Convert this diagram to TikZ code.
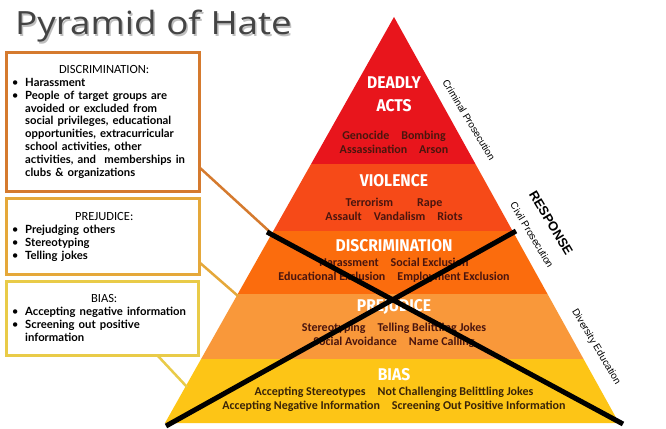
\documentclass[tikz,border=0pt]{standalone}
\usepackage{fontspec}
\usepackage{graphicx}
\setmainfont{Carlito}
\newfontfamily\titlefont{Open Sans}
\newfontfamily\headfont{Fira Sans}
\newfontfamily\sidefont{Liberation Sans}
\newfontfamily\bulletfont{Lato}
\definecolor{cDeadly}{HTML}{E8151C}
\definecolor{cViolence}{HTML}{F64A18}
\definecolor{cDiscr}{HTML}{FB6C0D}
\definecolor{cPrej}{HTML}{F9983A}
\definecolor{cBias}{HTML}{FDC516}
\definecolor{cSub}{HTML}{4A150E}
\definecolor{cBiasSub}{HTML}{3A2408}
\definecolor{boxD}{HTML}{D57A2E}
\definecolor{boxP}{HTML}{E5A83A}
\definecolor{boxB}{HTML}{E9CB48}
\definecolor{titlecol}{HTML}{444444}
\tikzset{
  hdr/.style={text=white, font=\headfont\bfseries\fontsize{17}{17}\selectfont, inner sep=0pt},
  sub/.style={text=cSub, font=\bfseries\fontsize{12}{14}\selectfont, align=center, inner sep=0pt},
  side/.style={text=black, font=\sidefont\fontsize{10}{10}\selectfont, inner sep=0pt, rotate=-59},
  infobox/.style={line width=3pt, fill=white},
  boxtext/.style={anchor=north west, text width=186pt, align=left, inner sep=0pt, font=\fontsize{12.5}{12.9}\selectfont},
  conn/.style={line width=2.5pt},
  xline/.style={line width=5pt, black}
}
\newcommand{\bfirst}[1]{\noindent\mbox{\makebox[14pt][l]{\hspace*{1pt}\textbullet}{\bulletfont\bfseries\fontsize{11.3}{12.9}\selectfont #1}}\par}
\newcommand{\bnext}[1]{\noindent\mbox{\hspace*{14pt}{\bulletfont\bfseries\fontsize{11.3}{12.9}\selectfont #1}}\par}
\begin{document}
\begin{tikzpicture}[x=1pt,y=-1pt]
\useasboundingbox (0,0) rectangle (666,428);
\fill[white] (0,0) rectangle (666,428);
% title
\node[anchor=base west, inner sep=0pt, text=black!25, font=\titlefont\fontsize{32}{32}\selectfont] at (16.5,36.5) {\scalebox{1.15}[1]{Pyramid of Hate}};
\node[anchor=base west, inner sep=0pt, text=titlecol, font=\titlefont\fontsize{32}{32}\selectfont] (title) at (15,35) {\scalebox{1.15}[1]{Pyramid of Hate}};
% pyramid
\coordinate (apex) at (394,17);
\coordinate (bl) at (165,423);
\coordinate (br) at (619,423);
\begin{scope}
\clip (apex) -- (bl) -- (br) -- cycle;
\fill[cDeadly] (150,0) rectangle (640,164);
\fill[cViolence] (150,164) rectangle (640,231);
\fill[cDiscr] (150,231) rectangle (640,294);
\fill[cPrej] (150,294) rectangle (640,359);
\fill[cBias] (150,359) rectangle (640,424);
\end{scope}
% headers
\node[hdr] (hDeadly) at (394,83) {\scalebox{0.92}[1]{DEADLY}};
\node[hdr] (hActs) at (394,106) {\scalebox{0.92}[1]{ACTS}};
\node[hdr] (hViol) at (394,181) {\scalebox{0.92}[1]{VIOLENCE}};
\node[hdr] (hDisc) at (394,246) {\scalebox{0.92}[1]{DISCRIMINATION}};
\node[hdr] (hPrej) at (394,307) {\scalebox{0.92}[1]{PREJUDICE}};
\node[hdr] (hBias) at (394,375) {\scalebox{0.92}[1]{BIAS}};
% sub texts
\node[sub] (sDeadly) at (394,142) {Genocide\quad Bombing\\Assassination\quad Arson};
\node[sub] (sViol) at (394,209) {Terrorism\qquad Rape\\Assault\quad Vandalism\quad Riots};
\node[sub] (sDisc) at (394,270) {Harassment\quad Social Exclusion\\Educational Exclusion\quad Employment Exclusion};
\node[sub] (sPrej) at (394,335) {Stereotyping\quad Telling Belittling Jokes\\Social Avoidance\quad Name Calling};
\node[sub, text=cBiasSub] (sBias) at (394,399) {Accepting Stereotypes\quad Not Challenging Belittling Jokes\\Accepting Negative Information\quad Screening Out Positive Information};
% side labels
\node[side] (crim) at (469,120) {Criminal Prosecution};
\node[side] (civil) at (532,235) {Civil Prosecution};
\node[side, font=\sidefont\bfseries\fontsize{13}{13}\selectfont] (resp) at (551,223) {RESPONSE};
\node[side] (div) at (596,347) {Diversity Education};
% connectors from boxes
\coordinate (cD1) at (199,167);
\coordinate (cD2) at (270,232);
\coordinate (cP1) at (199,262);
\coordinate (cP2) at (238,296);
\coordinate (cB1) at (158,356);
\coordinate (cB2) at (187,387);
\draw[conn, boxD] (cD1) -- (cD2);
\draw[conn, boxP] (cP1) -- (cP2);
\draw[conn, boxB] (cB1) -- (cB2);
% boxes
\draw[infobox, draw=boxD] (6.5,52.5) rectangle (199.5,191.5);
\draw[infobox, draw=boxP] (6.5,198.5) rectangle (199.5,274.5);
\draw[infobox, draw=boxB] (6.5,281.5) rectangle (198.5,355);
\node[boxtext] (tD) at (11,65) {{\centering DISCRIMINATION:\par}
\bfirst{Harassment}
\bfirst{People of target groups are}
\bnext{avoided or excluded from}
\bnext{social privileges, educational}
\bnext{opportunities, extracurricular}
\bnext{school activities, other}
\bnext{activities, and\ \ memberships in}
\bnext{clubs \& organizations}};
\node[boxtext] (tP) at (11,212) {{\centering PREJUDICE:\par}
\bfirst{Prejudging others}
\bfirst{Stereotyping}
\bfirst{Telling jokes}};
\node[boxtext] (tB) at (11,294) {{\centering BIAS:\par}
\bfirst{Accepting negative information}
\bfirst{Screening out positive}
\bnext{information}};
% X
\coordinate (x1a) at (267,232);
\coordinate (x1b) at (623,424);
\coordinate (x2a) at (166,426);
\coordinate (x2b) at (516,231);
\draw[xline] (x1a) -- (x1b);
\draw[xline] (x2a) -- (x2b);
\end{tikzpicture}
\end{document}
